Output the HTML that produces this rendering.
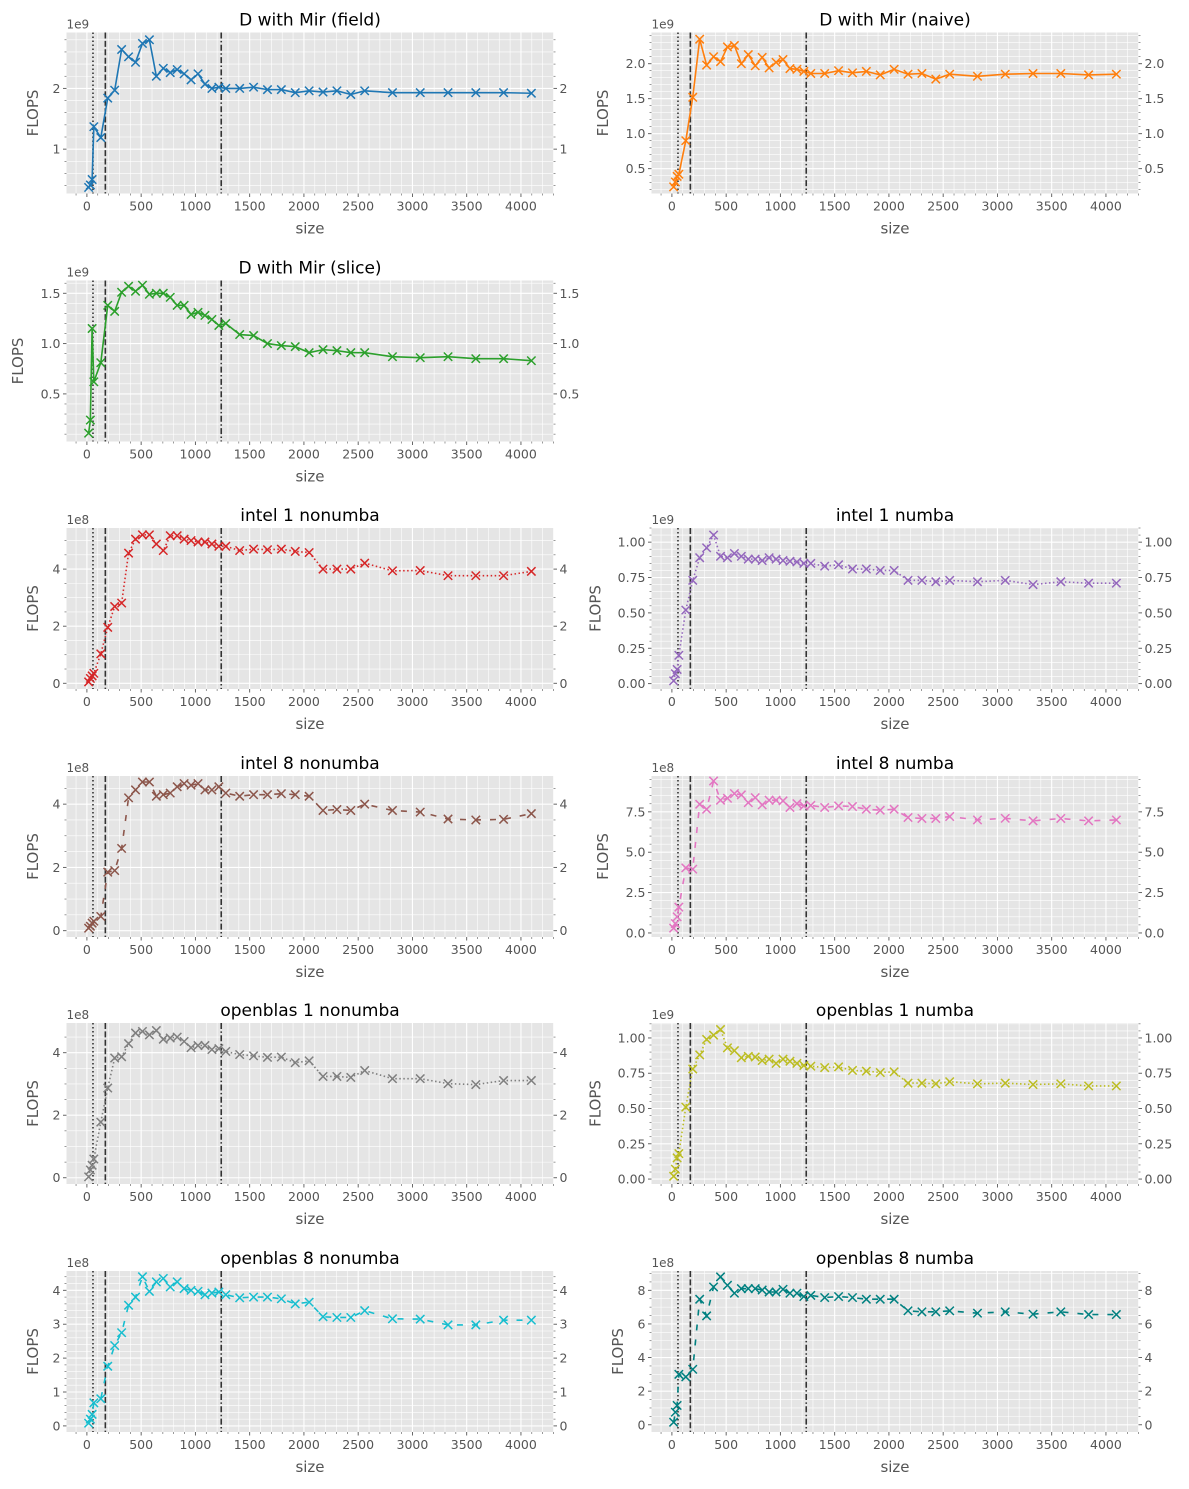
<!DOCTYPE html>
<html><head><meta charset="utf-8"><style>
html,body{margin:0;padding:0;background:#fff;}
svg{display:block;font-family:"DejaVu Sans","Liberation Sans",sans-serif;}
</style></head><body>
<svg id="fig" width="1189" height="1489" viewBox="0 0 1189 1489" xmlns="http://www.w3.org/2000/svg"></svg>
<script>
const sizes=[16,32,48,64,128,192,256,320,384,448,512,576,640,704,768,832,896,960,1024,1088,1152,1216,1280,1408,1536,1664,1792,1920,2048,2176,2304,2432,2560,2816,3072,3328,3584,3840,4096];
const fieldVals=[0.37,0.41,0.5,1.37,1.19,1.84,1.97,2.64,2.52,2.43,2.74,2.8,2.2,2.33,2.26,2.31,2.24,2.14,2.24,2.07,2.0,2.02,2.0,2.0,2.02,1.98,1.98,1.93,1.96,1.94,1.96,1.9,1.96,1.93,1.93,1.93,1.93,1.93,1.92];
const naiveVals=[0.24,0.31,0.39,0.42,0.9,1.52,2.35,1.98,2.1,2.03,2.24,2.26,2.0,2.13,1.97,2.09,1.94,2.02,2.06,1.93,1.92,1.89,1.86,1.86,1.9,1.87,1.89,1.84,1.92,1.85,1.86,1.78,1.85,1.82,1.85,1.86,1.86,1.84,1.85];
const sliceVals=[0.11,0.24,1.15,0.62,0.81,1.38,1.32,1.51,1.57,1.52,1.58,1.49,1.5,1.5,1.46,1.38,1.38,1.29,1.31,1.28,1.24,1.18,1.2,1.09,1.08,1.0,0.98,0.97,0.91,0.94,0.93,0.91,0.91,0.87,0.86,0.87,0.85,0.85,0.83];
const intel1NoVals=[0.05,0.17,0.26,0.35,1.03,1.96,2.69,2.81,4.56,5.05,5.2,5.2,4.88,4.65,5.17,5.17,5.05,5.0,4.95,4.95,4.88,4.8,4.8,4.65,4.7,4.68,4.7,4.62,4.58,4.0,4.0,4.0,4.21,3.94,3.95,3.77,3.77,3.77,3.92];
const intel1NuVals=[0.02,0.07,0.1,0.2,0.52,0.73,0.89,0.96,1.05,0.9,0.89,0.92,0.9,0.88,0.88,0.87,0.89,0.88,0.87,0.865,0.86,0.85,0.85,0.83,0.84,0.81,0.81,0.8,0.8,0.73,0.73,0.72,0.73,0.72,0.73,0.7,0.72,0.71,0.71];
const intel8NoVals=[0.08,0.14,0.24,0.3,0.45,1.85,1.9,2.6,4.2,4.45,4.7,4.7,4.25,4.3,4.35,4.55,4.65,4.6,4.65,4.45,4.45,4.55,4.35,4.25,4.3,4.3,4.33,4.3,4.25,3.8,3.83,3.8,4.0,3.8,3.75,3.53,3.5,3.52,3.7];
const intel8NuVals=[0.3,0.58,1.0,1.6,4.03,3.95,7.97,7.66,9.41,8.22,8.34,8.63,8.55,8.07,8.38,7.93,8.22,8.22,8.18,7.77,8.01,7.87,7.9,7.77,7.87,7.83,7.66,7.6,7.66,7.15,7.09,7.09,7.21,7.0,7.1,6.94,7.09,6.94,7.0];
const ob1NoVals=[0.03,0.25,0.4,0.6,1.78,2.87,3.83,3.87,4.29,4.63,4.68,4.57,4.71,4.43,4.47,4.5,4.36,4.16,4.23,4.23,4.1,4.13,4.04,3.94,3.9,3.85,3.86,3.68,3.74,3.24,3.24,3.21,3.43,3.17,3.17,3.01,2.98,3.11,3.11];
const ob1NuVals=[0.02,0.07,0.15,0.18,0.51,0.78,0.88,0.99,1.02,1.06,0.93,0.91,0.86,0.87,0.865,0.84,0.85,0.82,0.85,0.835,0.82,0.805,0.8,0.79,0.795,0.77,0.765,0.755,0.76,0.68,0.68,0.675,0.69,0.675,0.68,0.67,0.675,0.66,0.66];
const ob8NoVals=[0.08,0.2,0.34,0.68,0.8,1.76,2.37,2.75,3.56,3.8,4.4,3.97,4.25,4.35,4.1,4.25,4.05,4.0,3.97,3.87,3.92,3.95,3.87,3.78,3.8,3.8,3.75,3.6,3.65,3.22,3.2,3.2,3.4,3.16,3.15,2.98,2.98,3.12,3.12];
const ob8NuVals=[0.15,0.75,1.15,3.0,2.85,3.3,7.47,6.48,8.2,8.8,8.3,7.83,8.1,8.1,8.1,8.02,7.9,7.9,8.06,7.83,7.83,7.63,7.7,7.57,7.63,7.57,7.47,7.47,7.47,6.78,6.72,6.72,6.78,6.64,6.72,6.58,6.72,6.56,6.56];
const xTicks=[0,500,1000,1500,2000,2500,3000,3500,4000];
const vLines=[56,170,1238];

const SVGNS="http://www.w3.org/2000/svg";
const fig=document.getElementById('fig');
function mk(tag,attrs,parent){const e=document.createElementNS(SVGNS,tag);for(const k in attrs)e.setAttribute(k,attrs[k]);(parent||fig).appendChild(e);return e;}

const colL=66.5,colR=651.5,W=487,H=161;
const rowTop=[32.5,280.5,528,776,1023,1271];
const XMIN=-188,XMAX=4300;

const panels=[
 {name:'field',title:'D with Mir (field)',vals:fieldVals,col:0,row:0,color:'#1f77b4',dash:null,ymin:0.27,ymax:2.92,major:[1,2],minorStep:0.2,fmt:v=>String(v),exp:'1e9'},
 {name:'naive',title:'D with Mir (naive)',vals:naiveVals,col:1,row:0,color:'#ff7f0e',dash:null,ymin:0.145,ymax:2.446,major:[0.5,1.0,1.5,2.0],minorStep:0.1,fmt:v=>v.toFixed(1),exp:'1e9'},
 {name:'slice',title:'D with Mir (slice)',vals:sliceVals,col:0,row:1,color:'#2ca02c',dash:null,ymin:0.027,ymax:1.627,major:[0.5,1.0,1.5],minorStep:0.1,fmt:v=>v.toFixed(1),exp:'1e9'},
 {name:'intel-1-nonumba',title:'intel 1 nonumba',vals:intel1NoVals,col:0,row:2,color:'#d62728',dash:'1.5,2.5',ymin:-0.2,ymax:5.44,major:[0,2,4],minorStep:0.5,fmt:v=>String(v),exp:'1e8'},
 {name:'intel-1-numba',title:'intel 1 numba',vals:intel1NuVals,col:1,row:2,color:'#9467bd',dash:'1.5,2.5',ymin:-0.038,ymax:1.10,major:[0,0.25,0.5,0.75,1.0],minorStep:0.05,fmt:v=>v.toFixed(2),exp:'1e9'},
 {name:'intel-8-nonumba',title:'intel 8 nonumba',vals:intel8NoVals,col:0,row:3,color:'#8c564b',dash:'6,9',ymin:-0.2,ymax:4.89,major:[0,2,4],minorStep:0.5,fmt:v=>String(v),exp:'1e8'},
 {name:'intel-8-numba',title:'intel 8 numba',vals:intel8NuVals,col:1,row:3,color:'#e377c2',dash:'6,9',ymin:-0.25,ymax:9.72,major:[0,2.5,5,7.5],minorStep:0.5,fmt:v=>v.toFixed(1),exp:'1e8'},
 {name:'openblas-1-nonumba',title:'openblas 1 nonumba',vals:ob1NoVals,col:0,row:4,color:'#7f7f7f',dash:'1.5,2.5',ymin:-0.2,ymax:4.95,major:[0,2,4],minorStep:0.5,fmt:v=>String(v),exp:'1e8'},
 {name:'openblas-1-numba',title:'openblas 1 numba',vals:ob1NuVals,col:1,row:4,color:'#bcbd22',dash:'1.5,2.5',ymin:-0.035,ymax:1.106,major:[0,0.25,0.5,0.75,1.0],minorStep:0.05,fmt:v=>v.toFixed(2),exp:'1e9'},
 {name:'openblas-8-nonumba',title:'openblas 8 nonumba',vals:ob8NoVals,col:0,row:5,color:'#17becf',dash:'6,9',ymin:-0.18,ymax:4.57,major:[0,1,2,3,4],minorStep:0.2,fmt:v=>String(v),exp:'1e8'},
 {name:'openblas-8-numba',title:'openblas 8 numba',vals:ob8NuVals,col:1,row:5,color:'#008080',dash:'6,9',ymin:-0.43,ymax:9.15,major:[0,2,4,6,8],minorStep:0.5,fmt:v=>String(v),exp:'1e8'}
];

panels.forEach(p=>{
  const L=p.col?colR:colL, T=rowTop[p.row];
  const xs=v=>L+(v-XMIN)/(XMAX-XMIN)*W;
  const ys=v=>T+H-(v-p.ymin)/(p.ymax-p.ymin)*H;
  const g=mk('g',{});
  
  
  const bg=mk('rect',{x:L,y:T,width:W,height:H,fill:'#e5e5e5'},g);
  
  
  for(let v=-100;v<=4300;v+=100){const X=xs(v);if(X<L||X>L+W)continue;
    const isMaj=v%500===0;
    mk('line',{x1:X,x2:X,y1:T,y2:T+H,stroke:'#fff','stroke-width':isMaj?1.1:0.6},g);
    const tl=isMaj?3.5:2;
    mk('line',{x1:X,x2:X,y1:T+H,y2:T+H+tl,stroke:'#555','stroke-width':isMaj?0.9:0.6},g);
  }
  const s=p.minorStep;
  for(let k=Math.ceil(p.ymin/s);k*s<=p.ymax;k++){const v=k*s;const Y=ys(v);
    const isMaj=p.major.some(m=>Math.abs(m-v)<1e-6);
    mk('line',{x1:L,x2:L+W,y1:Y,y2:Y,stroke:'#fff','stroke-width':isMaj?1.1:0.6},g);
    const tl=isMaj?3.5:2;
    mk('line',{x1:L-tl,x2:L,y1:Y,y2:Y,stroke:'#555','stroke-width':isMaj?0.9:0.6},g);
    mk('line',{x1:L+W,x2:L+W+tl,y1:Y,y2:Y,stroke:'#555','stroke-width':isMaj?0.9:0.6},g);
  }
  xTicks.forEach(v=>{const t=mk('text',{x:xs(v),y:T+H+17,'text-anchor':'middle','font-size':12.5,fill:'#555'},g);t.textContent=v;
    
    });
  let maxLen=0;
  p.major.forEach(v=>{const str=p.fmt(v);maxLen=Math.max(maxLen,str.length);
    const t1=mk('text',{x:L-6,y:ys(v)+4.5,'text-anchor':'end','font-size':12.5,fill:'#555'},g);t1.textContent=str;
    
    
    const t2=mk('text',{x:L+W+6,y:ys(v)+4.5,'text-anchor':'start','font-size':12.5,fill:'#555'},g);t2.textContent=str;
    
    });
  const vd=['1.5,2.5','6,2.4','6,2.4,1.5,2.4'];
  vLines.forEach((v,i)=>{const ln=mk('line',{x1:xs(v),x2:xs(v),y1:T,y2:T+H,stroke:'#333','stroke-width':1.6,'stroke-dasharray':vd[i]},g);
    
    });
  const pts=sizes.map((x,i)=>xs(x).toFixed(2)+','+ys(p.vals[i]).toFixed(2)).join(' ');
  const pl=mk('polyline',{points:pts,fill:'none',stroke:p.color,'stroke-width':1.6},g);
  if(p.dash)pl.setAttribute('stroke-dasharray',p.dash);
  
  
  sizes.forEach((x,i)=>{const X=xs(x),Y=ys(p.vals[i]),r=4.2;
    const m=mk('path',{d:`M${X-r},${Y-r}L${X+r},${Y+r}M${X-r},${Y+r}L${X+r},${Y-r}`,stroke:p.color,'stroke-width':1.5,fill:'none'},g);
    
    });
  const tt=mk('text',{x:L+W/2,y:T-7,'text-anchor':'middle','font-size':17,fill:'#000'},g);tt.textContent=p.title;
  
  
  const xl=mk('text',{x:L+W/2,y:T+H+40,'text-anchor':'middle','font-size':15,fill:'#555'},g);xl.textContent='size';
  
  
  const lx=L-15-maxLen*7.5-6;
  const yl=mk('text',{x:lx,y:T+H/2,'text-anchor':'middle','font-size':15,fill:'#555',transform:`rotate(-90 ${lx} ${T+H/2})`},g);yl.textContent='FLOPS';
  
  
  const ex=mk('text',{x:L,y:T-4,'text-anchor':'start','font-size':12,fill:'#555'},g);ex.textContent=p.exp;
  
  
});
</script>
</body></html>
